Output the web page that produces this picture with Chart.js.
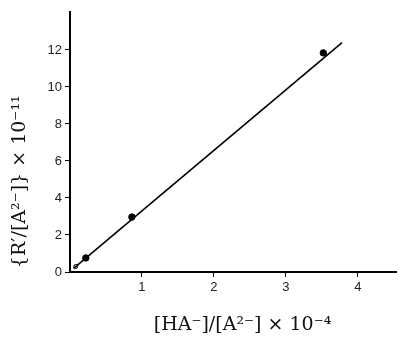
<!DOCTYPE html>
<html>
<head>
<meta charset="utf-8">
<script src="https://cdn.jsdelivr.net/npm/chart.js@4"></script>
<style>
html,body{margin:0;padding:0;background:#fff;}
#wrap{width:401px;height:339px;position:relative;}
</style>
</head>
<body>
<div id="wrap"><canvas id="c" width="401" height="339"></canvas></div>
<script>
// Data
const pointX = [0.22, 0.86, 3.52];
const pointY = [0.76, 2.97, 11.84];
const originMarkX = [0.08];
const originMarkY = [0.3];
const fitLineX = [0.05, 3.78];
const fitLineY = [0.2, 12.4];
const xTicks = [1, 2, 3, 4];
const yTicks = [0, 2, 4, 6, 8, 10, 12];
const xTitle = '\u2003[HA\u207B]/[A\u00B2\u207B] \u00D7 10\u207B\u2074';
const yTitle = '\u2009{R\u2032/[A\u00B2\u207B]} \u00D7 10\u207B\u00B9\u00B9';

const toXY = (xs, ys) => xs.map((x, i) => ({x: x, y: ys[i]}));

new Chart(document.getElementById('c'), {
  type: 'scatter',
  data: {
    datasets: [
      {
        data: toXY(fitLineX, fitLineY),
        showLine: true,
        borderColor: '#000',
        borderWidth: 1.6,
        pointRadius: 0,
        fill: false
      },
      {
        data: toXY(pointX, pointY),
        pointRadius: 3.2,
        pointBackgroundColor: '#000',
        pointBorderColor: '#000',
        pointBorderWidth: 1
      },
      {
        data: toXY(originMarkX, originMarkY),
        pointRadius: 2,
        pointBackgroundColor: '#fff',
        pointBorderColor: '#000',
        pointBorderWidth: 1
      }
    ]
  },
  options: {
    responsive: false,
    animation: false,
    layout: {padding: {top: 12, right: 1, left: 0, bottom: 0}},
    plugins: {legend: {display: false}, tooltip: {enabled: false}},
    scales: {
      x: {
        type: 'linear',
        min: 0,
        max: 4.53,
        afterBuildTicks: (s) => { s.ticks = xTicks.map(v => ({value: v})); },
        afterFit: (s) => { s.height = 67; },
        border: {display: true, color: '#000', width: 2},
        grid: {display: true, drawOnChartArea: false, drawTicks: true, tickLength: 5, color: '#000', lineWidth: 1},
        ticks: {color: '#222', font: {family: 'Liberation Sans', size: 13}, padding: 3, maxRotation: 0},
        title: {display: true, text: xTitle, color: '#111', font: {family: 'DejaVu Serif', size: 19}, padding: {top: 4, bottom: 3}}
      },
      y: {
        type: 'linear',
        min: 0,
        max: 14.05,
        afterBuildTicks: (s) => { s.ticks = yTicks.map(v => ({value: v})); },
        afterFit: (s) => { s.width = 70; },
        border: {display: true, color: '#000', width: 2},
        grid: {display: true, drawOnChartArea: false, drawTicks: true, tickLength: 5, color: '#000', lineWidth: 1},
        ticks: {color: '#222', font: {family: 'Liberation Sans', size: 13}, padding: 3},
        title: {display: true, align: 'start', text: yTitle, color: '#111', font: {family: 'DejaVu Serif', size: 19}, padding: {top: 9, bottom: 0}}
      }
    }
  }
});
</script>
</body>
</html>
